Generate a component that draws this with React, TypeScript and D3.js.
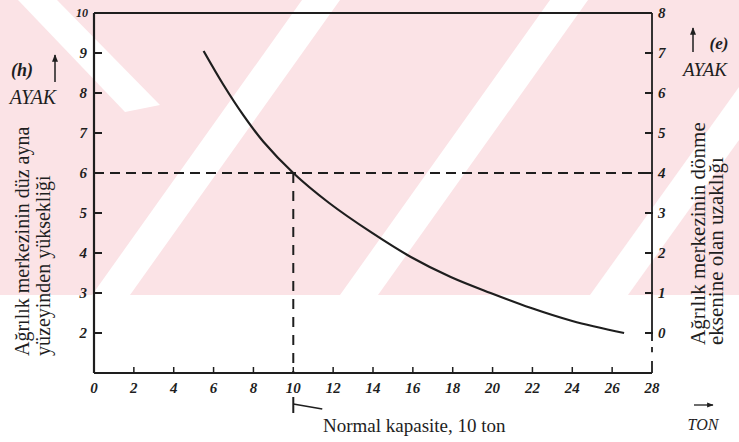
import React from "react";
import * as d3 from "d3";

const tonnage = [5.5, 6.5, 7.5, 8.5, 10, 11.8, 13.9, 15.9, 17.9, 19.9, 21.9, 24, 26.6];
const heightFt = [9.05, 8.2, 7.44, 6.78, 6.0, 5.25, 4.52, 3.9, 3.4, 3.0, 2.63, 2.3, 2.0];
const xTicks = [0, 2, 4, 6, 8, 10, 12, 14, 16, 18, 20, 22, 24, 26, 28];
const leftTicks = [2, 3, 4, 5, 6, 7, 8, 9, 10];
const rightTicks = [0, 1, 2, 3, 4, 5, 6, 7, 8];
const normalCapacity = 10;
const normalHeight = 6;

const W = 739;
const H = 442;
const INK = "#1e1e1e";
const PINK = "#fbe3e6";
const serif = "Liberation Serif";

export default function App() {
  const x = d3.scaleLinear().domain([0, 28]).range([94, 652]);
  const yL = d3.scaleLinear().domain([1, 10]).range([373, 13]);
  const yR = d3.scaleLinear().domain([-1, 8]).range([373, 13]);
  const pts: [number, number][] = tonnage.map((t, i) => [t, heightFt[i]]);
  const line = d3
    .line<[number, number]>()
    .x((d) => x(d[0]))
    .y((d) => yL(d[1]))
    .curve(d3.curveCatmullRom.alpha(0.5));
  const x0 = x(0);
  const x1 = x(28);
  const yTop = yL(10);
  const yBot = yL(1);
  const xn = x(normalCapacity);
  const yn = yL(normalHeight);

  return (
    <svg
      width={W}
      height={H}
      style={{ position: "absolute", left: 0, top: 0, display: "block", background: "#fff" }}
    >
      <defs>
        <marker id="ah" viewBox="0 0 10 10" refX="9" refY="5" markerWidth="5" markerHeight="5" orient="auto">
          <path d="M0,1 L10,5 L0,9 z" fill={INK} />
        </marker>
      </defs>
      {/* watermark */}
      <g>
        <rect x={0} y={0} width={W} height={295} fill={PINK} />
        <polygon points="18,0 57,0 160,105 125,112" fill="#fff" />
        <polygon points="92,295 130,295 340,0 302,0" fill="#fff" />
        <polygon points="340,295 378,295 588,0 550,0" fill="#fff" />
        <polygon points="590,295 628,295 739,140 739,87" fill="#fff" />
      </g>

      {/* frame */}
      <line x1={x0} x2={x1} y1={yTop} y2={yTop} stroke={INK} strokeWidth={2.2} />
      <line x1={x0} x2={x0} y1={yTop} y2={yBot} stroke={INK} strokeWidth={2.2} />
      <line x1={x0} x2={x1} y1={yBot} y2={yBot} stroke={INK} strokeWidth={2.2} />
      <line x1={x1} x2={x1} y1={yTop} y2={yR(-0.2)} stroke={INK} strokeWidth={1.8} />
      <line x1={x1} x2={x1} y1={yR(-0.35)} y2={yR(-0.48)} stroke={INK} strokeWidth={1.8} />
      <line x1={x1} x2={x1} y1={yR(-0.7)} y2={yBot} stroke={INK} strokeWidth={1.8} />

      {/* left ticks */}
      {leftTicks.map((v) => (
        <g key={"l" + v}>
          {v < 10 && <line x1={x0} x2={x0 + 8} y1={yL(v)} y2={yL(v)} stroke={INK} strokeWidth={2} />}
          <text
            x={v === 10 ? 88 : 87}
            y={yL(v)}
            dy="0.35em"
            textAnchor="end"
            fontFamily={serif}
            fontStyle="italic"
            fontWeight="bold"
            fontSize={v === 10 ? 12 : 15}
            fill={INK}
          >
            {v}
          </text>
        </g>
      ))}
      {/* right ticks */}
      {rightTicks.map((v) => (
        <g key={"r" + v}>
          {v < 8 && <line x1={x1 - 7} x2={x1 + 1} y1={yR(v)} y2={yR(v)} stroke={INK} strokeWidth={2} />}
          <text
            x={x1 + 6}
            y={yR(v)}
            dy="0.35em"
            textAnchor="start"
            fontFamily={serif}
            fontStyle="italic"
            fontWeight="bold"
            fontSize={15}
            fill={INK}
          >
            {v}
          </text>
        </g>
      ))}
      {/* bottom ticks */}
      {xTicks.map((v) => (
        <g key={"x" + v}>
          {v > 0 && v < 28 && <line x1={x(v)} x2={x(v)} y1={yBot} y2={yBot - 6} stroke={INK} strokeWidth={1.5} />}
          <text
            x={x(v)}
            y={yBot + 15}
            dy="0.35em"
            textAnchor="middle"
            fontFamily={serif}
            fontStyle="italic"
            fontWeight="bold"
            fontSize={15}
            fill={INK}
          >
            {v}
          </text>
        </g>
      ))}

      {/* guide lines */}
      <line x1={x0} x2={x1} y1={yn} y2={yn} stroke={INK} strokeWidth={2} strokeDasharray="10 6" />
      <line x1={xn} x2={xn} y1={yn} y2={yBot} stroke={INK} strokeWidth={2} strokeDasharray="10 8" />
      <line x1={xn} x2={xn} y1={yBot + 24} y2={yBot + 40} stroke={INK} strokeWidth={2} />
      <line x1={xn} x2={xn + 29} y1={yBot + 31} y2={yBot + 36} stroke={INK} strokeWidth={1.5} />

      {/* curve */}
      <path d={line(pts) || ""} fill="none" stroke={INK} strokeWidth={2.2} />

      {/* annotations */}
      <text x={323} y={425} dy="0.35em" fontFamily={serif} fontSize={19} fill={INK}>
        Normal kapasite, 10 ton
      </text>
      <text x={703} y={424} dy="0.35em" textAnchor="middle" fontFamily={serif} fontStyle="italic" fontSize={16} fill={INK}>
        TON
      </text>
      <line x1={694} x2={713} y1={405} y2={405} stroke={INK} strokeWidth={1.3} markerEnd="url(#ah)" />

      {/* left unit */}
      <text x={22} y={70} dy="0.35em" textAnchor="middle" fontFamily={serif} fontStyle="italic" fontWeight="bold" fontSize={18} fill={INK}>
        (h)
      </text>
      <line x1={55} x2={55} y1={82} y2={55} stroke={INK} strokeWidth={1.5} markerEnd="url(#ah)" />
      <text x={33} y={97} dy="0.35em" textAnchor="middle" fontFamily={serif} fontStyle="italic" fontSize={20} fill={INK}>
        AYAK
      </text>
      {/* right unit */}
      <line x1={693} x2={693} y1={52} y2={28} stroke={INK} strokeWidth={1.5} markerEnd="url(#ah)" />
      <text x={719} y={43} dy="0.35em" textAnchor="middle" fontFamily={serif} fontStyle="italic" fontWeight="bold" fontSize={17} fill={INK}>
        (e)
      </text>
      <text x={705} y={69} dy="0.35em" textAnchor="middle" fontFamily={serif} fontStyle="italic" fontSize={19} fill={INK}>
        AYAK
      </text>

      {/* axis titles */}
      <text transform="translate(29,356) rotate(-90)" fontFamily={serif} fontSize={20} fill={INK}>
        Ağrılık merkezinin düz ayna
      </text>
      <text transform="translate(50,356) rotate(-90)" fontFamily={serif} fontSize={20} fill={INK}>
        yüzeyinden yüksekliği
      </text>
      <text transform="translate(705,345) rotate(-90)" fontFamily={serif} fontSize={21} fill={INK}>
        Ağrılık merkezinin dönme
      </text>
      <text transform="translate(723,345) rotate(-90)" fontFamily={serif} fontSize={21} fill={INK}>
        eksenine olan uzaklığı
      </text>
    </svg>
  );
}
